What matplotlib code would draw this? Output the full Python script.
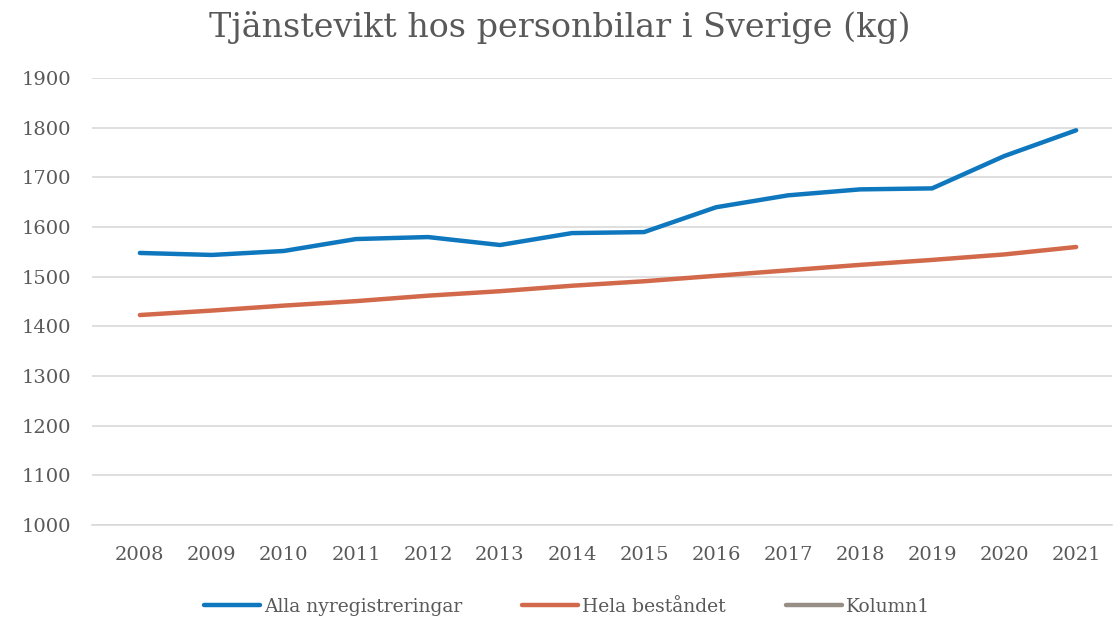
import matplotlib
matplotlib.use("Agg")
import matplotlib.pyplot as plt
from matplotlib.lines import Line2D

years = ["2008", "2009", "2010", "2011", "2012", "2013", "2014",
         "2015", "2016", "2017", "2018", "2019", "2020", "2021"]
alla_nyreg = [1548, 1544, 1552, 1576, 1580, 1564, 1588,
              1590, 1640, 1664, 1676, 1678, 1743, 1795]
hela_bestandet = [1423, 1432, 1442, 1451, 1462, 1471, 1482,
                  1491, 1502, 1513, 1524, 1534, 1545, 1560]
y_ticks = [1000, 1100, 1200, 1300, 1400, 1500, 1600, 1700, 1800, 1900]

TEXT = "#595959"
BLUE = "#0E77BD"
ORANGE = "#D2694A"
GREY = "#978F86"

plt.rcParams["font.family"] = ["DejaVu Serif"]

fig = plt.figure(figsize=(11.2, 6.2), dpi=100)
ax = fig.add_axes([0.082, 0.153, 0.911, 0.721])

x = list(range(len(years)))
ax.plot(x, alla_nyreg, color=BLUE, lw=3.2, solid_capstyle="round",
        solid_joinstyle="round")
ax.plot(x, hela_bestandet, color=ORANGE, lw=3.2, solid_capstyle="round",
        solid_joinstyle="round")

ax.set_xlim(-0.667, len(years) - 0.5)
ax.set_ylim(1000, 1900)
ax.set_xticks(x)
ax.set_xticklabels(years)
ax.set_yticks(y_ticks)

ax.grid(axis="y", color="#D9D9D9", lw=1.2)
ax.set_axisbelow(True)
for s in ["top", "right", "left"]:
    ax.spines[s].set_visible(False)
ax.spines["bottom"].set_color("#D9D9D9")
ax.spines["bottom"].set_linewidth(1.2)
ax.tick_params(length=0, labelsize=14, colors=TEXT, pad=15)
ax.tick_params(axis="y", pad=15)

fig.suptitle("Tjänstevikt hos personbilar i Sverige (kg)", y=0.982,
             fontsize=24, color=TEXT)

handles = [Line2D([], [], color=c, lw=3.2, solid_capstyle="round")
           for c in (BLUE, ORANGE, GREY)]
fig.legend(handles, ["Alla nyregistreringar", "Hela beståndet", "Kolumn1"],
           loc="lower center", bbox_to_anchor=(0.506, -0.02), ncol=3,
           frameon=False, fontsize=13.5, labelcolor=TEXT,
           handlelength=3.0, handletextpad=0.2, columnspacing=3.2)

fig.savefig("out.png", dpi=100)
